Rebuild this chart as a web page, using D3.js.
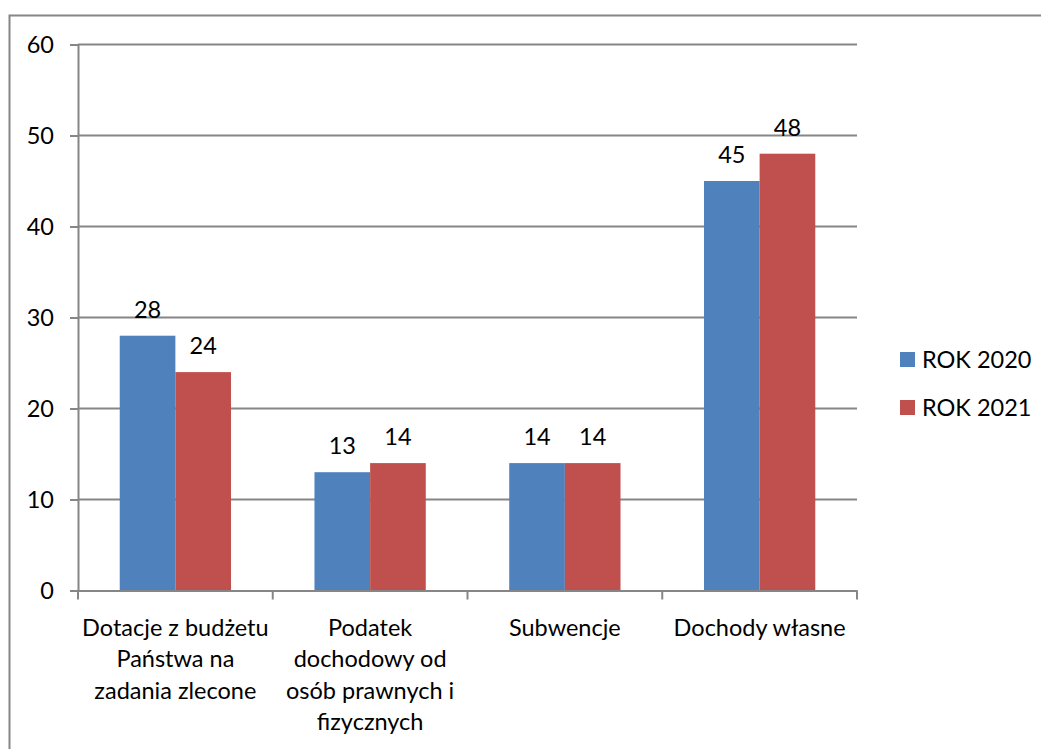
<!DOCTYPE html>
<html>
<head>
<meta charset="utf-8">
<script src="https://cdn.jsdelivr.net/npm/d3@7"></script>
<style>
  body { margin:0; background:#fff; }
  svg text { font-family: Lato, "Open Sans", sans-serif; fill:#000; }
</style>
</head>
<body>
<svg id="chart" width="1041" height="749"></svg>
<script>
/* data */
const categories = [
  ["Dotacje z budżetu", "Państwa na", "zadania zlecone"],
  ["Podatek", "dochodowy od", "osób prawnych i", "fizycznych"],
  ["Subwencje"],
  ["Dochody własne"]
];
const seriesNames = ["ROK 2020", "ROK 2021"];
const rok2020 = [28, 13, 14, 45];
const rok2021 = [24, 14, 14, 48];
const yTicks = [0, 10, 20, 30, 40, 50, 60];
const colors = ["#4F81BD", "#C0504D"];

const FS = 23.5;
const svg = d3.select("#chart");
const W = 1041, H = 749;
const plot = {left:78, right:857, top:44.5, bottom:590.5};

/* outer frame (runs past right/bottom edge) */
svg.append("rect").attr("x",9.5).attr("y",15.5)
  .attr("width",W+20).attr("height",H+20)
  .attr("fill","none").attr("stroke","#868686").attr("stroke-width",2);

const x = d3.scaleBand().domain(d3.range(categories.length))
  .range([plot.left, plot.right]);
const y = d3.scaleLinear().domain([0, 60]).range([plot.bottom, plot.top]);

/* gridlines + y axis */
const yAxis = d3.axisLeft(y).tickValues(yTicks).tickSize(8).tickPadding(16);
const gy = svg.append("g").attr("transform",`translate(${plot.left},0)`).call(yAxis);
gy.select(".domain").attr("stroke","#868686").attr("stroke-width",2);
gy.selectAll(".tick line").attr("stroke","#868686").attr("stroke-width",2);
gy.selectAll(".tick text").attr("font-size",FS).style("font-family","Lato, sans-serif").attr("fill","#000");

svg.append("g").selectAll("line").data(yTicks.filter(d=>d>0)).enter().append("line")
  .attr("x1",plot.left).attr("x2",plot.right)
  .attr("y1",d=>y(d)).attr("y2",d=>y(d))
  .attr("stroke","#868686").attr("stroke-width",2);

/* bars (gap width 150%) */
const data = [rok2020, rok2021];
const bw = x.bandwidth()/3.5;
data.forEach((vals, s) => {
  const g = svg.append("g");
  g.selectAll("rect").data(vals).enter().append("rect")
    .attr("x",(d,i)=>x(i) + bw*0.75 + s*bw)
    .attr("width",bw)
    .attr("y",d=>y(d)).attr("height",d=>y(0)-y(d))
    .attr("fill",colors[s]);
  g.selectAll("text").data(vals).enter().append("text")
    .attr("x",(d,i)=>x(i) + bw*0.75 + s*bw + bw/2)
    .attr("y",d=>y(d)-18)
    .attr("text-anchor","middle").attr("font-size",FS)
    .text(d=>d);
});

/* x axis */
const gx = svg.append("g").attr("transform",`translate(0,${plot.bottom})`)
  .call(d3.axisBottom(x).tickSize(0).tickFormat(""));
gx.select(".domain").attr("stroke","#868686").attr("stroke-width",2);
svg.append("g").selectAll("line").data(d3.range(categories.length+1)).enter().append("line")
  .attr("x1",i=>plot.left + i*x.bandwidth()).attr("x2",i=>plot.left + i*x.bandwidth())
  .attr("y1",plot.bottom).attr("y2",plot.bottom+9)
  .attr("stroke","#868686").attr("stroke-width",2);

/* category labels */
categories.forEach((lines, i) => {
  const t = svg.append("text").attr("text-anchor","middle").attr("font-size",FS);
  lines.forEach((ln, k) => {
    t.append("tspan").attr("x", x(i)+x.bandwidth()/2).attr("y", 636 + k*31.3).text(ln);
  });
});

/* legend */
const lg = svg.append("g");
seriesNames.forEach((n, s) => {
  lg.append("rect").attr("x",900).attr("y",352 + s*48).attr("width",15).attr("height",15).attr("fill",colors[s]);
  lg.append("text").attr("x",922).attr("y",368 + s*48).attr("font-size",FS).text(n);
});
</script>
</body>
</html>
